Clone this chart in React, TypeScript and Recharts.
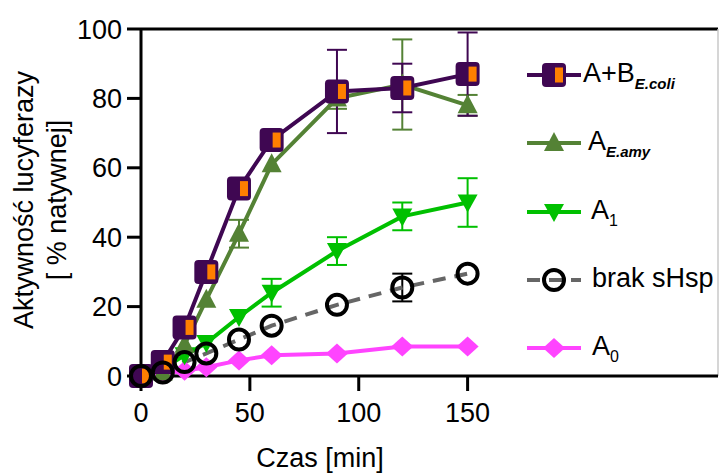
import React from 'react';
import { LineChart, Line, XAxis, YAxis, ErrorBar, ReferenceLine, Label } from 'recharts';

// czas inkubacji [min]
const czas = [0, 10, 20, 30, 45, 60, 90, 120, 150];

const abEcoli = [0, 4, 14, 30, 54, 68, 82, 83, 87];
const abEcoliErr = [null, null, null, null, null, null, 12, 7, 12];
const aEamy = [0, 1, 9, 22, 41, 61, 80, 84, 78];
const aEamyErr = [null, null, null, null, 4, null, 3, 13, 3];
const a1 = [0, 2, 6, 9.5, 17, 24, 36, 46, 50];
const a1Err = [null, null, null, null, null, 4, 4, 4, 7];
const brakSHsp = [0, 1, 4, 6.5, 10.5, 14.5, 20.5, 25.5, 29.5];
const brakSHspErr = [null, null, null, null, null, null, null, 4, null];
const a0 = [0, 0.5, 1.5, 2.5, 4.5, 6, 6.5, 8.5, 8.5];

const xTicks = [0, 50, 100, 150];
const yTicks = [0, 20, 40, 60, 80, 100];

const data = czas.map((t, i) => ({
  t,
  ab: abEcoli[i],
  abErr: abEcoliErr[i],
  amy: aEamy[i],
  amyErr: aEamyErr[i],
  a1: a1[i],
  a1Err: a1Err[i],
  brak: brakSHsp[i],
  brakErr: brakSHspErr[i],
  a0: a0[i],
}));

const FONT = '"Liberation Sans", Arial, sans-serif';
const PURPLE = '#3f0752';
const ORANGE = '#ff7f00';
const OLIVE = '#548235';
const GREEN = '#00c000';
const GRAY = '#666666';
const PINK = '#ff44ff';

const SquareMark = ({ cx, cy }: { cx: number; cy: number }) => (
  <g>
    <rect x={cx - 12} y={cy - 12} width={24} height={24} rx={4} fill={PURPLE} />
    <rect x={cx + 1} y={cy - 7.5} width={8} height={15} fill={ORANGE} />
  </g>
);
const UpTri = ({ cx, cy }: { cx: number; cy: number }) => (
  <path d={`M${cx},${cy - 11} L${cx + 10},${cy + 8} L${cx - 10},${cy + 8} Z`} fill={OLIVE} />
);
const DownTri = ({ cx, cy }: { cx: number; cy: number }) => (
  <path d={`M${cx - 10},${cy - 8} L${cx + 10},${cy - 8} L${cx},${cy + 10} Z`} fill={GREEN} />
);
const Ring = ({ cx, cy }: { cx: number; cy: number }) => (
  <circle cx={cx} cy={cy} r={10} fill="none" stroke="#000" strokeWidth={4} />
);
const Diamond = ({ cx, cy }: { cx: number; cy: number }) => (
  <path d={`M${cx},${cy - 10} L${cx + 11},${cy} L${cx},${cy + 10} L${cx - 11},${cy} Z`} fill={PINK} />
);

const dot = (Mark: any) => (p: any) =>
  p.cx == null ? <g key={p.index} /> : <Mark key={p.index} cx={p.cx} cy={p.cy} />;

const legendItems = [
  { name: 'A+B', sub: 'E.coli', subStyle: 'bi', color: PURPLE, Mark: SquareMark, dash: undefined, textX: 583 },
  { name: 'A', sub: 'E.amy', subStyle: 'bi', color: OLIVE, Mark: UpTri, dash: undefined, textX: 588 },
  { name: 'A', sub: '1', subStyle: 'n', color: GREEN, Mark: DownTri, dash: undefined, textX: 591 },
  { name: 'brak sHsp', sub: '', subStyle: 'n', color: GRAY, Mark: Ring, dash: '13 9', textX: 592 },
  { name: 'A', sub: '0', subStyle: 'n', color: PINK, Mark: Diamond, dash: undefined, textX: 592 },
];

function ChartLegend() {
  return (
    <div style={{ position: 'absolute', left: 0, top: 0 }}>
      {legendItems.map((it, i) => {
        const cy = 75 + i * 68.3;
        return (
          <div key={it.name + it.sub}>
            <svg style={{ position: 'absolute', left: 524, top: cy - 16 }} width={60} height={32}>
              <line x1={3} y1={16} x2={57} y2={16} stroke={it.color} strokeWidth={4} strokeDasharray={it.dash} />
              <it.Mark cx={30} cy={16} />
            </svg>
            <div
              style={{
                position: 'absolute',
                left: it.textX,
                top: cy - 17,
                fontFamily: FONT,
                fontSize: 27,
                lineHeight: '30px',
                whiteSpace: 'nowrap',
                color: '#000',
              }}
            >
              {it.name}
              {it.sub && (
                <span
                  style={{
                    fontSize: it.subStyle === 'bi' ? 15 : 16,
                    fontWeight: it.subStyle === 'bi' ? 'bold' : 'normal',
                    fontStyle: it.subStyle === 'bi' ? 'italic' : 'normal',
                    position: 'relative',
                    top: 7,
                  }}
                >
                  {it.sub}
                </span>
              )}
            </div>
          </div>
        );
      })}
    </div>
  );
}

export default function App() {
  const tick = { fill: '#000', fontSize: 27, fontFamily: FONT };
  const axisStroke = { stroke: '#000', strokeWidth: 3 };
  return (
    <div style={{ position: 'absolute', left: 0, top: 0, width: 721, height: 473, background: '#fff' }}>
      <LineChart width={721} height={473} data={data} margin={{ top: 29, right: 3, left: 0, bottom: 0 }}>
        <XAxis
          dataKey="t"
          type="number"
          domain={[0, 265]}
          ticks={xTicks}
          height={97}
          axisLine={axisStroke}
          tickLine={axisStroke}
          tickSize={15}
          tickMargin={12}
          tick={tick}
        >
          <Label
            content={() => (
              <text x={320} y={467} textAnchor="middle" fontSize={27} fontFamily={FONT} fill="#000">
                Czas [min]
              </text>
            )}
          />
        </XAxis>
        <YAxis
          type="number"
          domain={[0, 100]}
          ticks={yTicks}
          width={141}
          axisLine={axisStroke}
          tickLine={axisStroke}
          tickSize={14}
          tickMargin={5}
          tick={tick}
        >
          <Label
            content={() => (
              <g fontSize={27} fontFamily={FONT} fill="#000">
                <text x={33} y={200} textAnchor="middle" transform="rotate(-90 33 200)">
                  Aktywność lucyferazy
                </text>
                <text x={66} y={200} textAnchor="middle" transform="rotate(-90 66 200)">
                  [ % natywnej]
                </text>
              </g>
            )}
          />
        </YAxis>
        <ReferenceLine y={100} stroke="#000" strokeWidth={3} />
        <ReferenceLine x={265} stroke="#c8c8c8" strokeWidth={1.5} />

        <Line dataKey="a0" stroke={PINK} strokeWidth={4} dot={dot(Diamond)} activeDot={false} isAnimationActive={false} />
        <Line dataKey="a1" stroke={GREEN} strokeWidth={4} dot={dot(DownTri)} activeDot={false} isAnimationActive={false}>
          <ErrorBar dataKey="a1Err" direction="y" width={10} stroke={GREEN} strokeWidth={2} isAnimationActive={false} />
        </Line>
        <Line dataKey="amy" stroke={OLIVE} strokeWidth={4} dot={dot(UpTri)} activeDot={false} isAnimationActive={false}>
          <ErrorBar dataKey="amyErr" direction="y" width={10} stroke={OLIVE} strokeWidth={2} isAnimationActive={false} />
        </Line>
        <Line dataKey="ab" stroke={PURPLE} strokeWidth={4} dot={dot(SquareMark)} activeDot={false} isAnimationActive={false}>
          <ErrorBar dataKey="abErr" direction="y" width={10} stroke={PURPLE} strokeWidth={2} isAnimationActive={false} />
        </Line>
        <Line dataKey="brak" stroke={GRAY} strokeWidth={4} strokeDasharray="13 9" dot={dot(Ring)} activeDot={false} isAnimationActive={false}>
          <ErrorBar dataKey="brakErr" direction="y" width={10} stroke="#000" strokeWidth={2} isAnimationActive={false} />
        </Line>
      </LineChart>
      <ChartLegend />
    </div>
  );
}
